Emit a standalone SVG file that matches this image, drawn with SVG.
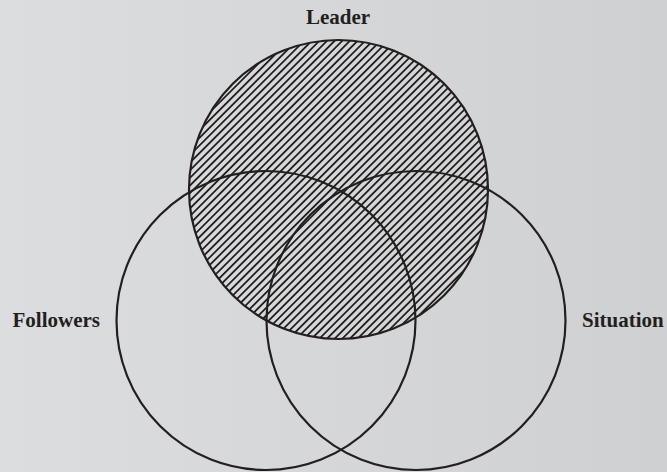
<svg xmlns="http://www.w3.org/2000/svg" width="667" height="472" viewBox="0 0 667 472">
  <defs>
    <linearGradient id="bg" x1="0" y1="0" x2="1" y2="0">
      <stop offset="0" stop-color="#dcdddf"/>
      <stop offset="1" stop-color="#cfd0d2"/>
    </linearGradient>
    <pattern id="hatch" patternUnits="userSpaceOnUse" width="5.4" height="10" patternTransform="rotate(45)">
      <rect x="0" y="0" width="1.8" height="10" fill="#231f20"/>
    </pattern>
  </defs>
  <style>
    .ring { fill: none; stroke: #231f20; stroke-width: 2.2; }
    .label { font-family: "Liberation Serif", "Times New Roman", serif; font-weight: bold; font-size: 21px; fill: #231f20; }
  </style>
  <rect width="667" height="472" fill="url(#bg)"/>
  <g id="leader">
    <circle cx="338.5" cy="189.5" r="149.5" fill="url(#hatch)"/>
    <circle class="ring" cx="338.5" cy="189.5" r="149.5"/>
    <text class="label" x="338" y="24" text-anchor="middle">Leader</text>
  </g>
  <g id="followers">
    <circle class="ring" cx="266" cy="320.5" r="149.5"/>
    <text class="label" x="12.5" y="327">Followers</text>
  </g>
  <g id="situation">
    <circle class="ring" cx="416" cy="320.5" r="149.5"/>
    <text class="label" x="582" y="327">Situation</text>
  </g>
  <g id="connectors"/>
</svg>
